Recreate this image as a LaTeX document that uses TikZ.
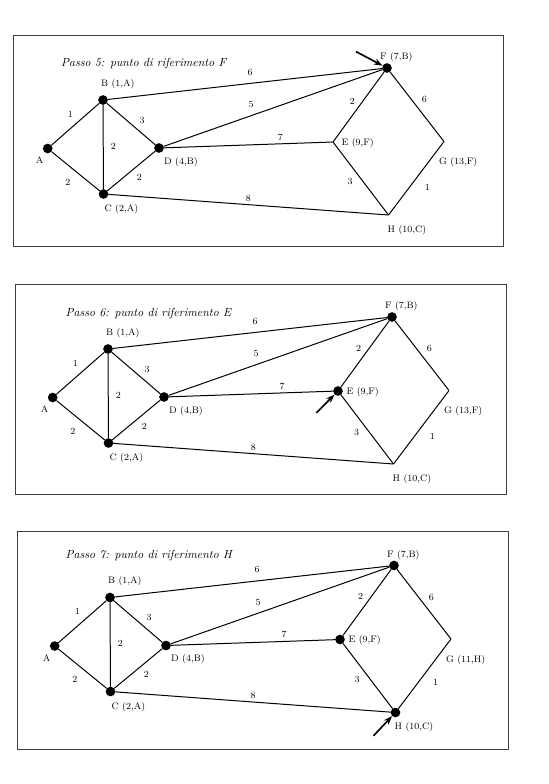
\documentclass[tikz,border=0pt]{standalone}
\usepackage{tikz}
\usetikzlibrary{arrows.meta,calc,positioning}
\tikzset{
  >={Stealth[length=2.6mm,width=1.9mm]},
  dot/.style={circle,fill=black,inner sep=0pt,minimum size=2.9mm},
  corner/.style={circle,inner sep=0pt,minimum size=0pt},
  link/.style={line width=0.85pt,line cap=round,line join=round},
  wt/.style={font=\fontsize{8}{9.5}\selectfont,inner sep=0pt},
  vlabel/.style={font=\fontsize{8}{9.5}\selectfont,inner sep=0pt},
  panelbox/.style={draw=black!75,line width=0.6pt},
  steptitle/.style={font=\itshape,anchor=west,inner sep=0pt},
  pointer/.style={->,line width=1.4pt}
}
% #1 style of E, #2 style of H, #3 label of G
\newcommand{\rete}[3]{%
  \node[dot] (A) at (47.7,148.5) {};
  \node[dot] (B) at (103,100) {};
  \node[dot] (C) at (103.5,194) {};
  \node[dot] (D) at (159,148) {};
  \node[#1] (E) at (333,142) {};
  \node[dot] (F) at (387,68) {};
  \node[corner] (G) at (444,141.5) {};
  \node[#2] (H) at (388.5,215) {};
  % vertex labels
  \node[vlabel] (Alab) at ([shift={(-8,12)}]A) {A};
  \node[vlabel,anchor=west] (Blab) at ([shift={(-2,-16)}]B) {B (1,A)};
  \node[vlabel,anchor=west] (Clab) at ([shift={(1,15.5)}]C) {C (2,A)};
  \node[vlabel,anchor=west] (Dlab) at ([shift={(5,14)}]D) {D (4,B)};
  \node[vlabel,anchor=west] (Elab) at ([shift={(8.5,1)}]E) {E (9,F)};
  \node[vlabel,anchor=west] (Flab) at ([shift={(-7,-10.5)}]F) {F (7,B)};
  \node[vlabel,anchor=west] (Glab) at ([shift={(-5,21)}]G) {#3};
  \node[vlabel,anchor=west] (Hlab) at ([shift={(-1,15)}]H) {H (10,C)};
  % links with weights
  \draw[link] (A) -- node[wt,xshift=-1.5mm,yshift=3.1mm] {1} (B);
  \draw[link] (A) -- node[wt,xshift=-2.3mm,yshift=-3.3mm] {2} (C);
  \draw[link] (B) -- node[wt,xshift=3mm,yshift=0.3mm] {2} (C);
  \draw[link] (B) -- node[wt,xshift=3.3mm,yshift=1.2mm] {3} (D);
  \draw[link] (C) -- node[wt,xshift=2.4mm,yshift=-1.8mm] {2} (D);
  \draw[link] (B) -- node[wt,xshift=1.5mm,yshift=3.5mm] {6} (F);
  \draw[link] (D) -- node[wt,pos=0.4,yshift=3.3mm] {5} (F);
  \draw[link] (D) -- node[wt,pos=0.69,yshift=2mm] {7} (E);
  \draw[link] (C) -- node[wt,pos=0.5,yshift=2mm] {8} (H);
  \draw[link] (E) -- node[wt,xshift=-1.9mm,yshift=1.8mm] {2} (F);
  \draw[link] (F) -- node[wt,xshift=2.2mm,yshift=2.1mm] {6} (G);
  \draw[link] (E) -- node[wt,xshift=-3.2mm,yshift=-1mm] {3} (H);
  \draw[link] (G) -- node[wt,xshift=3.3mm,yshift=-2.7mm] {1} (H);
}
\begin{document}
\begin{tikzpicture}[x=0.03cm,y=-0.03cm]
  \useasboundingbox (0,0) rectangle (548,784);

  % Passo 5
  \begin{scope}[name prefix=p5-]
    \draw[panelbox] (13,35) rectangle (503,246);
    \node[steptitle] (title) at (61,64) {Passo 5: punto di riferimento F};
    \rete{corner}{corner}{G (13,F)}
    \coordinate (tail) at ([shift={(-31,-16.4)}]F);
    \draw[pointer] (tail) -- (F);
  \end{scope}

  % Passo 6
  \begin{scope}[shift={(5,249)},name prefix=p6-]
    \draw[panelbox] (10,35) rectangle (501,245);
    \node[steptitle] (title) at (60.5,64.8) {Passo 6: punto di riferimento E};
    \rete{dot}{corner}{G (13,F)}
    \coordinate (tail) at ([shift={(-21.6,21.9)}]E);
    \draw[pointer] (tail) -- (E);
  \end{scope}

  % Passo 7
  \begin{scope}[shift={(7,497.5)},name prefix=p7-]
    \draw[panelbox] (10,34) rectangle (501,251.5);
    \node[steptitle] (title) at (58.5,58.5) {Passo 7: punto di riferimento H};
    \rete{dot}{dot}{G (11,H)}
    \coordinate (tail) at ([shift={(-22,23.3)}]H);
    \draw[pointer] (tail) -- (H);
  \end{scope}
\end{tikzpicture}
\end{document}
